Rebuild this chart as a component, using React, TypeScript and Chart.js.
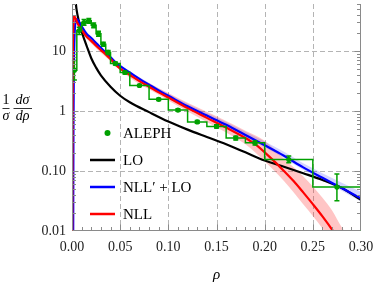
import React, { useEffect, useRef } from "react";
import { Chart, registerables } from "chart.js";

Chart.register(...registerables);

// ---------- data ----------
const xTicks = [0, 0.05, 0.1, 0.15, 0.2, 0.25, 0.3];
const xTickLabels = ["0.00", "0.05", "0.10", "0.15", "0.20", "0.25", "0.30"];
const yTicks = [0.01, 0.1, 1, 10];
const yTickLabels = ["0.01", "0.10", "1", "10"];

// LO (black)
const loRho = [0.0035, 0.004, 0.006, 0.008, 0.01, 0.012, 0.015, 0.02, 0.025, 0.03, 0.04, 0.05, 0.06, 0.08, 0.1, 0.12, 0.14, 0.16, 0.18, 0.2, 0.22, 0.24, 0.26, 0.28, 0.3];
const loVal = [85, 62, 38, 28, 21, 17, 12.5, 7.6, 5.3, 3.95, 2.55, 1.8, 1.4, 0.96, 0.67, 0.49, 0.37, 0.28, 0.205, 0.15, 0.118, 0.092, 0.071, 0.052, 0.033];

// NLL' + LO (blue)
const nllpRho = [0.0012, 0.0015, 0.002, 0.0025, 0.003, 0.004, 0.005, 0.006, 0.008, 0.01, 0.015, 0.02, 0.025, 0.03, 0.035, 0.04, 0.045, 0.05, 0.06, 0.07, 0.08, 0.09, 0.1, 0.12, 0.14, 0.16, 0.18, 0.2, 0.22, 0.24, 0.26, 0.28, 0.3];
const nllpVal = [0.005, 0.5, 6, 15, 24, 32, 34, 33, 29.5, 26, 19.5, 16.5, 13.6, 11.4, 9.5, 7.9, 6.5, 5.6, 4.4, 3.45, 2.75, 2.2, 1.8, 1.2, 0.84, 0.59, 0.4, 0.27, 0.18, 0.115, 0.077, 0.052, 0.035];

// NLL (red)
const nllRho = [0.0002, 0.0005, 0.0008, 0.001, 0.0015, 0.002, 0.003, 0.004, 0.005, 0.006, 0.008, 0.01, 0.015, 0.02, 0.025, 0.03, 0.035, 0.04, 0.045, 0.05, 0.06, 0.07, 0.08, 0.09, 0.1, 0.12, 0.14, 0.16, 0.18, 0.19, 0.2, 0.21, 0.22, 0.23, 0.24, 0.25, 0.26, 0.27, 0.28];
const nllVal = [0.005, 0.5, 6, 14, 31, 38, 37, 34, 31, 28.5, 25, 22.5, 17.5, 14.8, 12.3, 10.4, 8.8, 7.4, 6.0, 5.1, 4.0, 3.15, 2.55, 2.05, 1.68, 1.12, 0.77, 0.53, 0.355, 0.28, 0.205, 0.145, 0.1, 0.068, 0.044, 0.028, 0.0175, 0.0105, 0.006];

// NLL uncertainty band (pink)
const nllBandRho = [0.002, 0.003, 0.005, 0.01, 0.02, 0.04, 0.06, 0.08, 0.1, 0.12, 0.14, 0.16, 0.18, 0.2, 0.22, 0.24, 0.26, 0.27, 0.28, 0.29];
const nllBandUp = [40, 40, 33, 23.5, 15.8, 8.0, 4.5, 2.95, 2.0, 1.38, 0.97, 0.68, 0.47, 0.32, 0.16, 0.082, 0.036, 0.022, 0.0115, 0.007];
const nllBandLo = [34, 34, 29, 20.5, 13.4, 6.8, 3.6, 2.3, 1.5, 0.98, 0.66, 0.44, 0.28, 0.145, 0.068, 0.028, 0.011, 0.006, 0.003, 0.0015];

// NLL' + LO uncertainty band (blue)
const nllpBandRho = [0.004, 0.01, 0.02, 0.04, 0.06, 0.08, 0.1, 0.12, 0.14, 0.16, 0.18, 0.2, 0.22, 0.24, 0.26, 0.28, 0.3];
const nllpBandUp = [35, 27, 17.2, 8.3, 4.6, 2.95, 1.95, 1.32, 0.93, 0.66, 0.45, 0.31, 0.21, 0.135, 0.092, 0.064, 0.045];
const nllpBandLo = [31, 24.5, 15.6, 7.5, 4.15, 2.6, 1.7, 1.14, 0.79, 0.55, 0.37, 0.25, 0.165, 0.105, 0.07, 0.047, 0.031];

// ALEPH data
const binEdges = [0, 0.005, 0.01, 0.015, 0.02, 0.025, 0.03, 0.035, 0.04, 0.05, 0.06, 0.08, 0.1, 0.12, 0.14, 0.16, 0.18, 0.2, 0.25, 0.3];
const alephVal = [4.8, 22, 30, 32, 27, 19.5, 13, 9.5, 6.2, 4.4, 2.67, 1.57, 1.04, 0.66, 0.555, 0.356, 0.295, 0.155, 0.054];
const alephLo = [3.3, 19, 27, 29, 24.5, 17.6, 12, 8.8, 5.85, 4.15, 2.56, 1.5, 0.99, 0.625, 0.52, 0.33, 0.272, 0.137, 0.032];
const alephHi = [7.0, 25, 33.5, 35, 29.5, 21.4, 14, 10.2, 6.55, 4.65, 2.78, 1.64, 1.09, 0.695, 0.59, 0.382, 0.318, 0.178, 0.089];

const legendLabels = ["ALEPH", "LO", "NLL\u2032 + LO", "NLL"];

// ---------- styles ----------
const GREEN = "#00a000";
const FONT = '"Liberation Serif", "Times New Roman", serif';

const pts = (xs: number[], ys: number[]) => xs.map((x, i) => ({ x, y: ys[i] }));

const decor = {
  id: "decor",
  beforeDatasetsDraw(chart: any) {
    const { ctx, chartArea: a, scales } = chart;
    const x = scales.x, y = scales.y;
    ctx.save();
    ctx.strokeStyle = "#b4b4b4";
    ctx.lineWidth = 1;
    ctx.setLineDash([5, 3]);
    for (const v of xTicks.slice(1, -1)) {
      const px = Math.round(x.getPixelForValue(v)) + 0.5;
      ctx.beginPath(); ctx.moveTo(px, a.top); ctx.lineTo(px, a.bottom); ctx.stroke();
    }
    for (const v of yTicks.slice(1)) {
      const py = Math.round(y.getPixelForValue(v)) + 0.5;
      ctx.beginPath(); ctx.moveTo(a.left, py); ctx.lineTo(a.right, py); ctx.stroke();
    }
    ctx.restore();
  },
  afterDatasetsDraw(chart: any) {
    const { ctx, chartArea: a, scales } = chart;
    const x = scales.x, y = scales.y;
    ctx.save();
    // error bars
    ctx.strokeStyle = GREEN;
    ctx.lineWidth = 1.5;
    for (let i = 0; i < alephVal.length; i++) {
      const c = (binEdges[i] + binEdges[i + 1]) / 2;
      const px = x.getPixelForValue(c);
      const y1 = y.getPixelForValue(alephLo[i]);
      const y2 = y.getPixelForValue(alephHi[i]);
      ctx.beginPath();
      ctx.moveTo(px, y1); ctx.lineTo(px, y2);
      ctx.moveTo(px - 2.5, y1); ctx.lineTo(px + 2.5, y1);
      ctx.moveTo(px - 2.5, y2); ctx.lineTo(px + 2.5, y2);
      ctx.stroke();
    }
    // frame
    ctx.strokeStyle = "#8a8a8a";
    ctx.lineWidth = 1;
    const L = Math.round(a.left) + 0.5, R = Math.round(a.right) - 0.5, B = Math.round(a.bottom) - 0.5;
    ctx.beginPath();
    ctx.moveTo(L, a.top); ctx.lineTo(L, B); ctx.lineTo(R, B); ctx.lineTo(R, a.top);
    ctx.stroke();
    // x minor ticks
    ctx.beginPath();
    for (let k = 1; k < 30; k++) {
      const v = k / 100;
      const px = Math.round(x.getPixelForValue(v)) + 0.5;
      const len = k % 5 === 0 ? 6 : 3.5;
      ctx.moveTo(px, B); ctx.lineTo(px, B - len);
    }
    // y minor ticks
    for (let e = -2; e <= 1; e++) {
      for (let m = 1; m <= 9; m++) {
        const v = m * Math.pow(10, e);
        if (v > y.max || (m === 1 && e === -2)) continue;
        const py = Math.round(y.getPixelForValue(v)) + 0.5;
        const len = m === 1 ? 6 : 3.5;
        ctx.moveTo(L, py); ctx.lineTo(L + len, py);
        ctx.moveTo(R, py); ctx.lineTo(R - len, py);
      }
    }
    ctx.stroke();

    // legend
    ctx.fillStyle = "#000";
    ctx.font = `15px ${FONT}`;
    ctx.textBaseline = "middle";
    ctx.textAlign = "left";
    const ly = [133, 160, 187, 214];
    const lcol = [GREEN, "#000", "#0000ff", "#ff0000"];
    for (let i = 0; i < legendLabels.length; i++) {
      if (i === 0) {
        ctx.fillStyle = GREEN;
        ctx.beginPath(); ctx.arc(107.5, ly[i], 3, 0, Math.PI * 2); ctx.fill();
      } else {
        ctx.strokeStyle = lcol[i];
        ctx.lineWidth = 2.5;
        ctx.beginPath(); ctx.moveTo(90, ly[i]); ctx.lineTo(115, ly[i]); ctx.stroke();
      }
      ctx.fillStyle = "#000";
      ctx.fillText(legendLabels[i], 123, ly[i] + 1);
    }

    // x title
    ctx.textAlign = "center";
    ctx.font = `italic 15px ${FONT}`;
    ctx.fillText("\u03c1", (a.left + a.right) / 2, 275);

    // y title: (1/σ)(dσ/dρ)
    const barY = 108.5;
    ctx.font = `14px ${FONT}`;
    ctx.fillText("1", 6, barY - 8);
    ctx.font = `italic 14px ${FONT}`;
    ctx.fillText("\u03c3", 6, barY + 8);
    ctx.fillText("d\u03c3", 22.5, barY - 8);
    ctx.fillText("d\u03c1", 22.5, barY + 8);
    ctx.strokeStyle = "#000";
    ctx.lineWidth = 0.8;
    ctx.beginPath();
    ctx.moveTo(2.5, barY); ctx.lineTo(9.5, barY);
    ctx.moveTo(13.5, barY); ctx.lineTo(32, barY);
    ctx.stroke();
    ctx.restore();
  },
};

export default function App() {
  const ref = useRef<HTMLCanvasElement>(null);
  useEffect(() => {
    const canvas = ref.current!;
    // each bin value is held across [edge_i, edge_i+1]
    const histData = [{ x: binEdges[0], y: alephVal[0] }];
    for (let i = 0; i < alephVal.length; i++) {
      histData.push({ x: binEdges[i + 1], y: alephVal[i] });
      if (i + 1 < alephVal.length) histData.push({ x: binEdges[i + 1], y: alephVal[i + 1] });
    }
    histData.push({ x: binEdges[binEdges.length - 1], y: 0.001 });
    const centers = alephVal.map((v, i) => ({ x: (binEdges[i] + binEdges[i + 1]) / 2, y: v }));

    const hidden = { borderWidth: 0, borderColor: "transparent", pointRadius: 0, cubicInterpolationMode: "monotone" as const };
    const chart = new Chart(canvas, {
      type: "line",
      data: {
        datasets: [
          { label: "nllUp", data: pts(nllBandRho, nllBandUp), ...hidden, fill: "+1", backgroundColor: "rgba(255,40,40,0.27)", order: 10 },
          { label: "nllLo", data: pts(nllBandRho, nllBandLo), ...hidden, fill: false, order: 10 },
          { label: "nllpUp", data: pts(nllpBandRho, nllpBandUp), ...hidden, fill: "+1", backgroundColor: "rgba(60,60,255,0.22)", order: 9 },
          { label: "nllpLo", data: pts(nllpBandRho, nllpBandLo), ...hidden, fill: false, order: 9 },
          { label: "LO", data: pts(loRho, loVal), borderColor: "#000", borderWidth: 2.2, pointRadius: 0, fill: false, cubicInterpolationMode: "monotone", order: 8 },
          { label: "NLL' + LO", data: pts(nllpRho, nllpVal), borderColor: "#0000ff", borderWidth: 2.2, pointRadius: 0, fill: false, cubicInterpolationMode: "monotone", order: 7 },
          { label: "NLL", data: pts(nllRho, nllVal), borderColor: "#ff0000", borderWidth: 2.2, pointRadius: 0, fill: false, cubicInterpolationMode: "monotone", order: 6 },
          { label: "hist", data: histData, borderColor: GREEN, borderWidth: 1.5, pointRadius: 0, fill: false, tension: 0, order: 5 },
          { label: "ALEPH", data: centers, showLine: false, pointRadius: 2.6, pointStyle: "circle", backgroundColor: GREEN, borderColor: GREEN, borderWidth: 0, order: 4 },
        ] as any,
      },
      options: {
        animation: false,
        responsive: false,
        devicePixelRatio: 1,
        layout: { padding: { left: 0, right: 13, top: 0, bottom: 0 } },
        plugins: { legend: { display: false }, tooltip: { enabled: false } },
        scales: {
          x: {
            type: "linear",
            min: 0,
            max: 0.3,
            afterBuildTicks: (s: any) => { s.ticks = xTicks.map((v) => ({ value: v })); },
            afterFit: (s: any) => { s.height = 54; s.paddingLeft = 0; s.paddingRight = 0; },
            ticks: {
              autoSkip: false,
              maxRotation: 0,
              padding: 8,
              color: "#222",
              font: { family: FONT, size: 14 },
              callback: (_v: any, i: number) => xTickLabels[i],
            },
            grid: { display: false, drawTicks: false },
            border: { display: false },
          },
          y: {
            type: "logarithmic",
            min: 0.01,
            max: 61,
            afterBuildTicks: (s: any) => { s.ticks = yTicks.map((v) => ({ value: v })); },
            afterFit: (s: any) => { s.width = 72; s.paddingTop = 0; s.paddingBottom = 0; },
            ticks: {
              autoSkip: false,
              padding: 6,
              color: "#222",
              font: { family: FONT, size: 14 },
              callback: (_v: any, i: number) => yTickLabels[i],
            },
            grid: { display: false, drawTicks: false },
            border: { display: false },
          },
        },
      } as any,
      plugins: [decor],
    });
    return () => chart.destroy();
  }, []);
  return (
    <div style={{ position: "absolute", left: 0, top: 0, width: 374, height: 285, background: "#fff" }}>
      <canvas ref={ref} width={374} height={285} style={{ display: "block", width: 374, height: 285 }} />
    </div>
  );
}
